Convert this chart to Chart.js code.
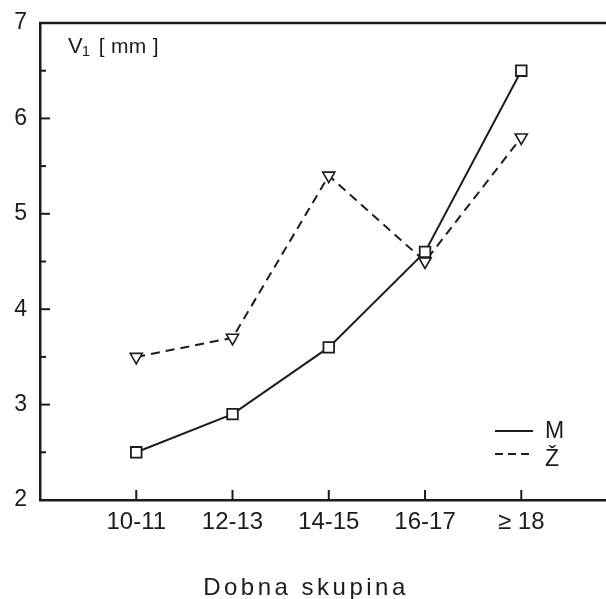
<!DOCTYPE html>
<html>
<head>
<meta charset="utf-8">
<script src="https://cdn.jsdelivr.net/npm/chart.js@4.4.1/dist/chart.umd.min.js"></script>
<style>
html,body{margin:0;padding:0;background:#fff;}
canvas{display:block;}
</style>
</head>
<body>
<canvas id="c" width="606" height="599"></canvas>
<script>
const categories = ['10-11', '12-13', '14-15', '16-17', '\u2265 18'];
const seriesM = [2.5, 2.9, 3.6, 4.6, 6.5];
const seriesZ = [3.5, 3.7, 5.4, 4.5, 5.8];
const yTicks = [2, 3, 4, 5, 6, 7];
const seriesNames = ['M', '\u017D'];
const yLabel = 'V';
const yLabelSub = '1';
const yLabelUnit = '[ mm ]';
const xTitle = 'Dobna skupina';

const INK = '#1c1c1c';
const FONT = "'Liberation Sans Narrow', 'Liberation Sans', Arial, sans-serif";

const decor = {
  id: 'decor',
  afterDraw(chart) {
    const ctx = chart.ctx;
    const a = chart.chartArea;
    const xs = chart.scales.x, ys = chart.scales.y;
    ctx.save();
    ctx.strokeStyle = INK;
    ctx.lineWidth = 2.5;
    // top frame line
    ctx.beginPath();
    ctx.moveTo(a.left - 1, a.top);
    ctx.lineTo(chart.width, a.top);
    ctx.stroke();
    // y ticks inside
    ctx.lineWidth = 2;
    for (let v = yTicks[0] + 0.5; v < yTicks[yTicks.length - 1]; v += 0.5) {
      const py = ys.getPixelForValue(v);
      const len = Number.isInteger(v) ? 10 : 6;
      ctx.beginPath();
      ctx.moveTo(a.left, py);
      ctx.lineTo(a.left + len, py);
      ctx.stroke();
    }
    // x ticks inside
    categories.forEach((c, i) => {
      const px = xs.getPixelForValue(i);
      ctx.beginPath();
      ctx.moveTo(px, a.bottom);
      ctx.lineTo(px, a.bottom - 10);
      ctx.stroke();
    });
    // y label
    ctx.fillStyle = INK;
    ctx.textBaseline = 'alphabetic';
    ctx.textAlign = 'left';
    ctx.font = "22px " + FONT;
    ctx.fillText(yLabel, a.left + 28, a.top + 30);
    const vw = ctx.measureText(yLabel).width;
    ctx.font = "15px " + FONT;
    ctx.fillText(yLabelSub, a.left + 27 + vw, a.top + 33);
    ctx.font = "21px " + FONT;
    ctx.letterSpacing = '0.3px';
    ctx.fillText(yLabelUnit, a.left + 28 + vw + 16, a.top + 30);
    // x title
    ctx.font = "24px " + FONT;
    ctx.letterSpacing = '3.5px';
    ctx.textAlign = 'center';
    ctx.fillText(xTitle, 306, 595);
    ctx.letterSpacing = '0px';
    // legend
    ctx.textAlign = 'left';
    ctx.lineWidth = 2;
    const lx0 = 495, lx1 = 533;
    ctx.beginPath();
    ctx.setLineDash([]);
    ctx.moveTo(lx0, 431); ctx.lineTo(lx1, 431);
    ctx.stroke();
    ctx.beginPath();
    ctx.setLineDash([8, 5]);
    ctx.moveTo(lx0, 454); ctx.lineTo(lx1, 454);
    ctx.stroke();
    ctx.setLineDash([]);
    ctx.font = "23px " + FONT;
    ctx.fillText(seriesNames[0], 545, 438);
    ctx.fillText(seriesNames[1], 545, 466);
    ctx.restore();
  }
};

new Chart(document.getElementById('c'), {
  type: 'line',
  data: {
    datasets: [
      {
        label: seriesNames[0],
        data: seriesM.map((v, i) => ({ x: i, y: v })),
        borderColor: INK,
        borderWidth: 2,
        pointStyle: 'rect',
        pointRadius: 7.5,
        pointBackgroundColor: '#fff',
        pointBorderColor: INK,
        pointBorderWidth: 1.8,
        tension: 0
      },
      {
        label: seriesNames[1],
        data: seriesZ.map((v, i) => ({ x: i, y: v })),
        borderColor: INK,
        borderWidth: 2,
        borderDash: [9, 6],
        pointStyle: 'triangle',
        rotation: 180,
        pointRotation: 180,
        pointRadius: 7,
        pointBackgroundColor: '#fff',
        pointBorderColor: INK,
        pointBorderWidth: 1.6,
        tension: 0
      }
    ]
  },
  options: {
    responsive: false,
    animation: false,
    events: [],
    layout: { autoPadding: false, padding: { top: 23, left: 0, right: 0, bottom: 0 } },
    plugins: { legend: { display: false }, tooltip: { enabled: false } },
    scales: {
      x: {
        type: 'linear',
        min: -1,
        max: 4.88,
        grid: { display: false },
        border: { display: true, color: INK, width: 2.5 },
        afterBuildTicks: s => { s.ticks = categories.map((c, i) => ({ value: i })); },
        afterFit: s => { s.height = 99; s.paddingRight = 0; },
        ticks: {
          autoSkip: false,
          maxRotation: 0,
          color: INK,
          font: { size: 24, family: FONT },
          padding: 0,
          callback: v => categories[v]
        }
      },
      y: {
        min: 2,
        max: 7,
        grid: { display: false },
        border: { display: true, color: INK, width: 2.5 },
        afterBuildTicks: s => { s.ticks = yTicks.map(v => ({ value: v })); },
        afterFit: s => { s.width = 40; },
        ticks: {
          color: INK,
          font: { size: 23, family: FONT },
          padding: 5
        }
      }
    }
  },
  plugins: [decor]
});
</script>
</body>
</html>
